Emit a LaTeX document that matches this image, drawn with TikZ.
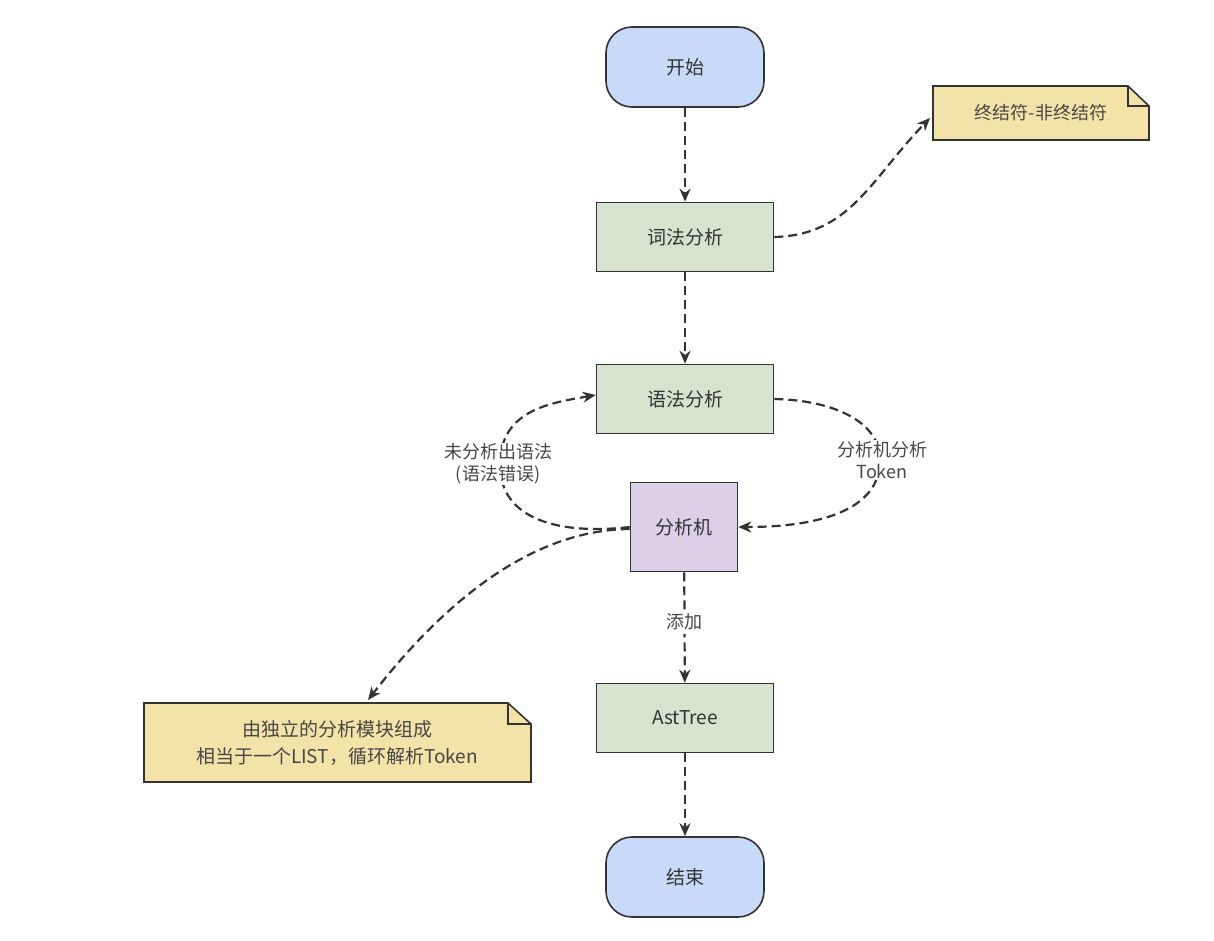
\documentclass[tikz,border=0pt]{standalone}
\usepackage{fontspec}
\setmainfont{Noto Sans CJK SC}
\usetikzlibrary{arrows.meta}
\definecolor{bl}{HTML}{C9D9F8}
\definecolor{gr}{HTML}{D5E3CF}
\definecolor{pu}{HTML}{DCCFE8}
\definecolor{ye}{HTML}{F4E3A8}
\definecolor{ln}{HTML}{333333}
\begin{document}
\begin{tikzpicture}[x=1pt,y=-1pt,
 box/.style={draw=ln,line width=1.6pt,minimum width=177pt,minimum height=69pt,font=\fontsize{19}{22}\selectfont,text=ln},
 term/.style={box,fill=bl,rounded corners=26pt,minimum width=158pt,minimum height=80pt},
 proc/.style={box,fill=gr},
 arr/.style={draw=ln,line width=2.2pt,dash pattern=on 9pt off 5pt,-{Stealth[length=13pt,width=11pt]}},
 lab/.style={font=\fontsize{18}{22}\selectfont,text=ln!90,align=center}]
\useasboundingbox (0,0) rectangle (1214,940);
\node[term] (s) at (685,67) {开始};
\node[proc] (lex) at (685,237) {词法分析};
\node[proc] (syn) at (685,399) {语法分析};
\node[box,fill=pu,minimum width=107pt,minimum height=89pt] (m) at (684,527) {分析机};
\node[proc] (ast) at (685,718) {AstTree};
\node[term] (e) at (685,877) {结束};
% notes
\draw[ln,line width=1.6pt,fill=ye] (933,86) -- (1128,86) -- (1149,106) -- (1149,140) -- (933,140) -- cycle;
\draw[ln,line width=1.2pt] (1128,86) -- (1128,106) -- (1149,106);
\node[lab] (n1) at (1041,113) {终结符-非终结符};
\coordinate (n1w) at (930,118);
\draw[ln,line width=1.6pt,fill=ye] (144,703) -- (508,703) -- (531,724) -- (531,782) -- (144,782) -- cycle;
\draw[ln,line width=1.2pt] (508,703) -- (508,724) -- (531,724);
\node[lab,font=\fontsize{19}{27}\selectfont] (n2) at (337,743) {由独立的分析模块组成\\相当于一个LIST，循环解析Token};
\coordinate (n2t) at (368,700);
% edges
\draw[arr] (s) -- (lex);
\draw[arr] (lex) -- (syn);
\draw[arr] (m) -- node[fill=white,lab,pos=0.45]{添加} (ast);
\draw[arr] (ast) -- (e);
\draw[arr] (lex.east) .. controls (850,235) and (870,180) .. (n1w);
\draw[arr] (m.west) .. controls (560,535) and (500,520) .. (500,465) .. controls (500,410) and (550,403) .. ([yshift=4pt]syn.west);
\draw[arr] (syn.east) .. controls (830,400) and (880,420) .. (880,460) .. controls (880,510) and (820,527) .. (m.east);
\node[lab,fill=white,inner sep=1pt] at (498,464) {未分析出语法\\(语法错误)};
\node[lab,fill=white,inner sep=1pt] at (882,460) {分析机分析\\Token};
\draw[arr] ([yshift=-2pt]m.west) .. controls (520,530) and (430,620) .. (n2t);
\end{tikzpicture}
\end{document}
